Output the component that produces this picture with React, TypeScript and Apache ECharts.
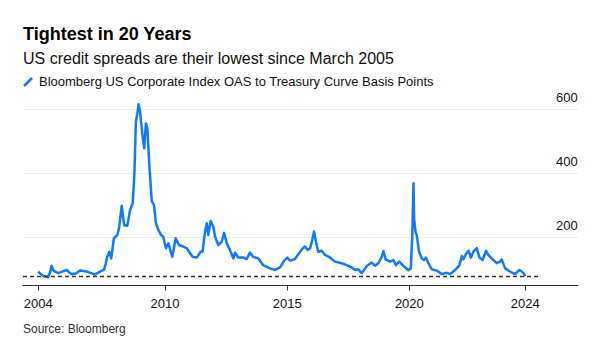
import React, { useEffect, useRef } from "react";
import * as echarts from "echarts";

const title = "Tightest in 20 Years";
const subtitle = "US credit spreads are their lowest since March 2005";
const legendLabel = "Bloomberg US Corporate Index OAS to Treasury Curve Basis Points";
const source = "Source: Bloomberg";

// decimal years
const dates = [
  2004.81, 2004.92, 2005.02, 2005.15, 2005.22, 2005.3, 2005.36, 2005.45, 2005.55, 2005.63,
  2005.8, 2005.98, 2006.1, 2006.18, 2006.35, 2006.52, 2006.65, 2006.8, 2006.95, 2007.13,
  2007.25, 2007.34, 2007.5, 2007.58, 2007.64, 2007.72, 2007.8, 2007.91, 2008.05, 2008.13,
  2008.23, 2008.33, 2008.46, 2008.57, 2008.68, 2008.75, 2008.81, 2008.87, 2008.92, 2008.98,
  2009.07, 2009.15, 2009.22, 2009.28, 2009.36, 2009.46, 2009.55, 2009.63, 2009.73, 2009.84,
  2009.93, 2010.04, 2010.14, 2010.3, 2010.44, 2010.57, 2010.75, 2010.89, 2011.13, 2011.3,
  2011.46, 2011.54, 2011.64, 2011.71, 2011.77, 2011.87, 2011.98, 2012.05, 2012.18, 2012.32,
  2012.42, 2012.53, 2012.66, 2012.8, 2012.87, 2013.0, 2013.2, 2013.34, 2013.48, 2013.61,
  2013.82, 2014.02, 2014.3, 2014.5, 2014.71, 2014.87, 2015.0, 2015.12, 2015.32, 2015.5,
  2015.64, 2015.73, 2015.84, 2015.94, 2016.03, 2016.1, 2016.18, 2016.27, 2016.41, 2016.55,
  2016.75, 2016.96, 2017.23, 2017.44, 2017.64, 2017.78, 2017.91, 2018.05, 2018.26, 2018.46,
  2018.6, 2018.73, 2018.87, 2018.94, 2019.03, 2019.21, 2019.35, 2019.45, 2019.59, 2019.75,
  2019.96, 2020.06, 2020.12, 2020.17, 2020.2, 2020.25, 2020.3, 2020.4, 2020.51, 2020.6,
  2020.68, 2020.78, 2020.92, 2021.12, 2021.33, 2021.53, 2021.67, 2021.8, 2021.94, 2022.05,
  2022.15, 2022.21, 2022.32, 2022.42, 2022.52, 2022.62, 2022.76, 2022.87, 2023.0, 2023.14,
  2023.23, 2023.37, 2023.58, 2023.71, 2023.78, 2023.92, 2024.12, 2024.33, 2024.5, 2024.6,
  2024.67, 2024.74,
];

const spreads = [
  92, 84, 78, 76, 74, 90, 110, 94, 90, 87,
  92, 97, 88, 84, 86, 95, 94, 92, 88, 83,
  88, 92, 97, 118, 138, 154, 133, 196, 206, 232,
  298, 237, 235, 284, 305, 400, 560, 586, 615, 592,
  524, 477, 555, 540, 425, 312, 300, 243, 222, 206,
  201, 165, 180, 138, 196, 175, 170, 165, 138, 136,
  154, 154, 217, 243, 206, 250, 232, 201, 175, 185,
  213, 180, 159, 133, 151, 136, 136, 131, 151, 138,
  133, 112, 102, 97, 105, 125, 136, 126, 131, 151,
  165, 170, 159, 165, 191, 217, 185, 154, 157, 144,
  136, 123, 118, 112, 105, 97, 99, 87, 109, 120,
  110, 118, 138, 156, 130, 123, 128, 112, 123, 110,
  96, 102, 201, 368, 253, 217, 206, 154, 133, 128,
  136, 118, 99, 95, 84, 88, 84, 92, 102, 112,
  141, 130, 147, 157, 136, 154, 165, 136, 128, 157,
  144, 133, 118, 123, 130, 102, 92, 84, 97, 92,
  87, 77,
];

const xTickPositions = [2004.81, 2010, 2015, 2020, 2024.74];
const xTickLabels = ["2004", "2010", "2015", "2020", "2024"];
const yTickValues = [200, 400, 600];
const currentLevel = 78;
const dashStart = 2004.19;
const dashEnd = 2025.32;

const FONT = "'Liberation Sans', Arial, Helvetica, sans-serif";
const BLUE = "#1079ff";

export default function App() {
  const ref = useRef<HTMLDivElement>(null);

  useEffect(() => {
    document.body.style.margin = "0";
    if (!ref.current) return;
    const chart = echarts.init(ref.current, undefined, { renderer: "svg" });
    const seriesData = dates.map((d, i) => [d, spreads[i]]);
    chart.setOption({
      animation: false,
      backgroundColor: "#ffffff",
      textStyle: { fontFamily: FONT },
      grid: { left: 23, right: 36.3, top: 93, bottom: 78.5, containLabel: false },
      xAxis: {
        type: "value",
        min: 2004.19,
        max: 2026.89,
        axisLine: { show: true, lineStyle: { color: "#333333", width: 1 } },
        axisTick: {
          show: true,
          customValues: xTickPositions,
          length: 5,
          lineStyle: { color: "#333333", width: 1 },
        },
        axisLabel: {
          customValues: xTickPositions,
          formatter: (v: number) => {
            const i = xTickPositions.findIndex((p) => Math.abs(p - v) < 0.01);
            return i >= 0 ? xTickLabels[i] : "";
          },
          color: "#111111",
          fontSize: 13,
          fontFamily: FONT,
          margin: 11,
        },
        splitLine: { show: false },
      },
      yAxis: {
        type: "value",
        position: "right",
        min: 48.4,
        max: 650,
        axisLine: { show: false },
        axisTick: { show: false, customValues: yTickValues },
        axisLabel: {
          customValues: yTickValues,
          inside: true,
          margin: 0,
          color: "#111111",
          fontSize: 13,
          fontFamily: FONT,
          verticalAlign: "bottom",
          padding: [0, 0, 5, 0],
        },
        splitLine: { show: true, lineStyle: { color: "#ececec", width: 1 } },
      },
      series: [
        {
          type: "line",
          data: seriesData,
          showSymbol: false,
          symbol: "none",
          lineStyle: { color: BLUE, width: 2.5, join: "round" },
          z: 3,
          markLine: {
            silent: true,
            symbol: ["none", "none"],
            label: { show: false },
            lineStyle: { color: "#333333", type: [4, 3], width: 1.3 },
            data: [
              [
                { coord: [dashStart, currentLevel] },
                { coord: [dashEnd, currentLevel] },
              ],
            ],
          },
        },
      ],
      graphic: [
        {
          type: "text",
          left: 23,
          top: 25,
          style: { text: title, font: `bold 18px ${FONT}`, fill: "#000000" },
        },
        {
          type: "text",
          left: 23,
          top: 50,
          style: { text: subtitle, font: `16px ${FONT}`, fill: "#111111" },
        },
        {
          type: "line",
          shape: { x1: 24, y1: 86, x2: 32, y2: 78 },
          style: { stroke: BLUE, lineWidth: 2.5 },
        },
        {
          type: "text",
          left: 39,
          top: 75,
          style: { text: legendLabel, font: `13px ${FONT}`, fill: "#111111" },
        },
        {
          type: "text",
          left: 23,
          top: 323,
          style: { text: source, font: `12px ${FONT}`, fill: "#333333" },
        },
      ],
    });
    return () => chart.dispose();
  }, []);

  return <div ref={ref} style={{ width: 614, height: 364 }} />;
}
